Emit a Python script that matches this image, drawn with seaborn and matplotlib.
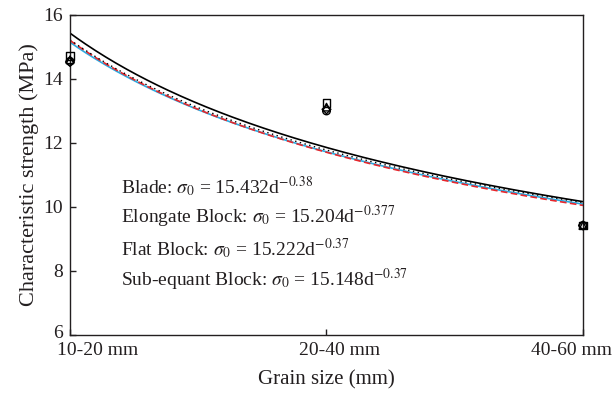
import numpy as np
import pandas as pd
import matplotlib
matplotlib.use("Agg")
import matplotlib.pyplot as plt
import matplotlib.transforms as mtransforms
import seaborn as sns

# ---- data ----
categories = ["10-20 mm", "20-40 mm", "40-60 mm"]
positions = [1, 2, 3]
series = ["Blade", "Elongate Block", "Flat Block", "Sub-equant Block"]
fit_a = [15.432, 15.204, 15.222, 15.148]
fit_b = [-0.38, -0.377, -0.37, -0.37]
fit_b_txt = ["-0.38", "-0.377", "-0.37", "-0.37"]
blade_vals = [14.72, 13.25, 9.42]
elongate_vals = [14.55, 13.00, 9.42]
flat_vals = [14.60, 13.12, 9.42]
subequant_vals = [14.53, 13.05, 9.42]

sns.set_style("ticks")
plt.rcParams["font.family"] = ["Liberation Serif", "DejaVu Serif"]
plt.rcParams["mathtext.fontset"] = "stix"

TXT = "#231f20"
fig = plt.figure(figsize=(6.14, 3.94), dpi=100)
ax = fig.add_axes([0.114, 0.150, 0.8355, 0.812])

# fitted curves
d = np.linspace(1, 3, 200)
rows = []
for s, a, b in zip(series, fit_a, fit_b):
    for dv in d:
        rows.append({"d": dv, "s": a * dv ** b, "series": s})
curves = pd.DataFrame(rows)

styles = {
    "Blade": dict(color="black", ls="-", lw=1.2),
    "Elongate Block": dict(color="#e8262b", ls=(0, (4, 2)), lw=1.2),
    "Flat Block": dict(color="black", ls=(0, (1, 2.5)), lw=1.0),
    "Sub-equant Block": dict(color="#29abe2", ls="-", lw=1.2),
}
order = ["Sub-equant Block", "Elongate Block", "Flat Block", "Blade"]
for s in order:
    sub = curves[curves["series"] == s]
    st = styles[s]
    sns.lineplot(data=sub, x="d", y="s", ax=ax, color=st["color"],
                 linestyle=st["ls"], linewidth=st["lw"], legend=False)

# measured points
pts = pd.DataFrame({
    "x": positions * 4,
    "y": blade_vals + elongate_vals + flat_vals + subequant_vals,
    "series": sum([[s] * 3 for s in series], []),
})
markers = {"Blade": "s", "Elongate Block": "o", "Flat Block": "^", "Sub-equant Block": "D"}
for s in series:
    sub = pts[pts["series"] == s]
    sns.scatterplot(data=sub, x="x", y="y", ax=ax, marker=markers[s],
                    s=30 if markers[s] != "D" else 20, facecolor="none",
                    edgecolor="black", linewidth=1.0, legend=False,
                    clip_on=False, zorder=5)

ax.set_xlim(1, 3)
ax.set_ylim(6, 16)
ax.set_xticks(positions)
ax.set_xticklabels(categories)
ax.set_yticks([6, 8, 10, 12, 14, 16])
ax.tick_params(axis="both", direction="in", length=4, width=1, labelsize=14,
               colors=TXT)
ax.tick_params(axis="y", pad=5)
ax.tick_params(axis="x", pad=5)
xt = ax.get_xticklabels()
offsets_px = [-13, 13, 29]
has = ["left", "center", "right"]
for lab, off, ha in zip(xt, offsets_px, has):
    lab.set_ha(ha)
    lab.set_transform(lab.get_transform() +
                      mtransforms.ScaledTranslation(off / 100, 0, fig.dpi_scale_trans))
# lift the lowest y label slightly, as in the reference
yt = ax.get_yticklabels()
yt[0].set_transform(yt[0].get_transform() +
                    mtransforms.ScaledTranslation(0, 3 / 100, fig.dpi_scale_trans))
for sp in ax.spines.values():
    sp.set_visible(True)
    sp.set_linewidth(1.0)
    sp.set_color(TXT)

ax.set_xlabel("Grain size (mm)", fontsize=15, color=TXT, labelpad=8)
ax.set_ylabel("Characteristic strength (MPa)", fontsize=16, color=TXT, labelpad=3)

text_y = [10.625, 9.69, 8.69, 7.72]
for s, a, bt, ty in zip(series, fit_a, fit_b_txt, text_y):
    ax.text(1.199, ty, f"{s}: $\\sigma_0$ = {a:.3f}d$^{{{bt}}}$",
            fontsize=14, va="center", ha="left", color=TXT)

fig.savefig("out.png", dpi=100)
